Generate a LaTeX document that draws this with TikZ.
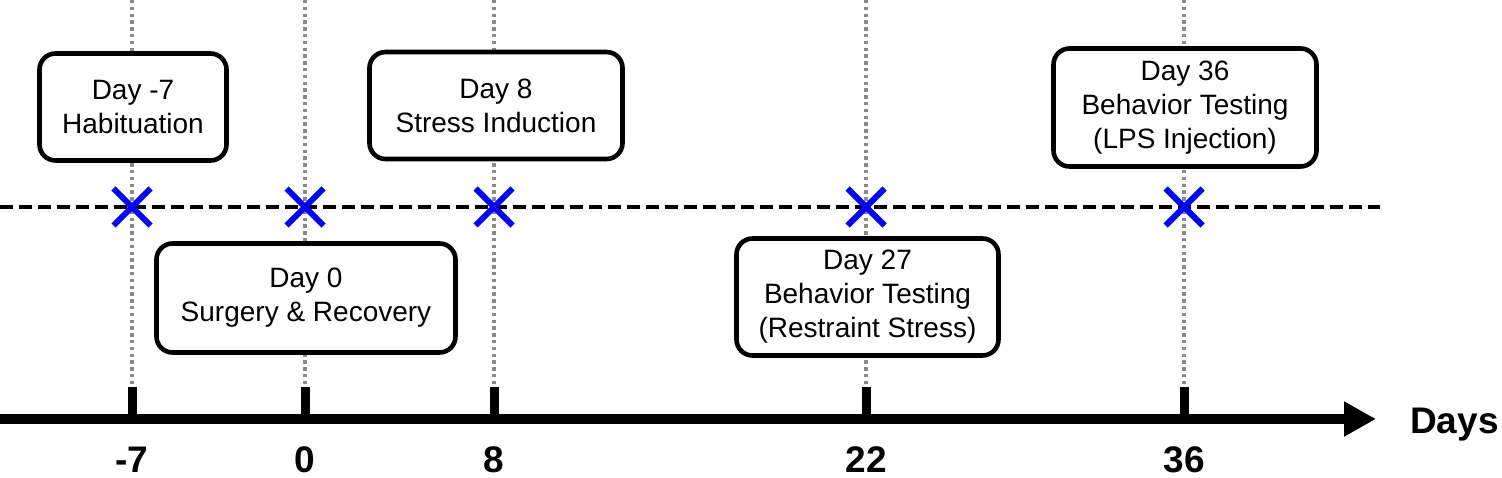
\documentclass[tikz,border=0pt]{standalone}
\usepackage{fontspec}
\setmainfont{Liberation Sans}
\usetikzlibrary{arrows.meta,shapes.misc}
\definecolor{guidegray}{RGB}{138,138,138}
\begin{document}
\begin{tikzpicture}[x=1pt,y=-1pt,
  eventbox/.style={draw=black,line width=4.6pt,rounded corners=16pt,fill=white,
    align=center,inner sep=0pt,font=\fontsize{28}{34}\selectfont},
  guide/.style={draw=guidegray,line width=3.6pt,dash pattern=on 3.4pt off 3.4pt},
  xmark/.style={cross out,draw=blue,line width=6pt,minimum size=31pt,inner sep=0pt},
  ticklab/.style={font=\fontsize{37}{40}\bfseries\selectfont,inner sep=0pt},
  axisline/.style={line width=10pt,-{Triangle[length=32pt,width=33pt]}},
  tickline/.style={line width=9pt},
  timeline/.style={line width=4.5pt,dash pattern=on 13pt off 6pt}]
\useasboundingbox (0,0) rectangle (1502,478);
\foreach \n/\x in {a/132,b/305,c/494,d/866,e/1184}{
  \coordinate (\n top) at (\x,0);
  \coordinate (\n bot) at (\x,384);
  \coordinate (\n tick) at (\x,387);
  \coordinate (\n ax) at (\x,419);
  \coordinate (\n mid) at (\x,207);
}
\foreach \n in {a,b,c,d,e}{ \draw[guide] (\n top) -- (\n bot); }
% dashed timeline
\coordinate (tl0) at (0,207);
\coordinate (tl1) at (1380,207);
\draw[timeline] (tl0) -- (tl1);
% boxes
\node[eventbox,minimum width=187pt,minimum height=107pt] (b1) at (133,107) {Day -7\\Habituation};
\node[eventbox,minimum width=299pt,minimum height=109pt] (b2) at (306,298) {Day 0\\Surgery \& Recovery};
\node[eventbox,minimum width=253pt,minimum height=107pt] (b3) at (496,105.5) {Day 8\\Stress Induction};
\node[eventbox,minimum width=262pt,minimum height=117pt] (b4) at (867.5,297) {Day 27\\Behavior Testing\\(Restraint Stress)};
\node[eventbox,minimum width=263pt,minimum height=118pt] (b5) at (1185,107.5) {Day 36\\Behavior Testing\\(LPS Injection)};
% markers
\foreach \n in {a,b,c,d,e}{ \node[xmark] (x\n) at (\n mid) {}; }
% axis
\coordinate (ax0) at (0,419);
\coordinate (ax1) at (1376,419);
\draw[axisline] (ax0) -- (ax1);
\foreach \n in {a,b,c,d,e}{ \draw[tickline] (\n tick) -- (\n ax); }
% labels
\node[ticklab,anchor=base] (l1) at (132,472) {-7};
\node[ticklab,anchor=base] (l2) at (305,472) {0};
\node[ticklab,anchor=base] (l3) at (494,472) {8};
\node[ticklab,anchor=base] (l4) at (866,472) {22};
\node[ticklab,anchor=base] (l5) at (1184,472) {36};
\node[ticklab,anchor=base west] (days) at (1410,433) {Days};
\end{tikzpicture}
\end{document}
